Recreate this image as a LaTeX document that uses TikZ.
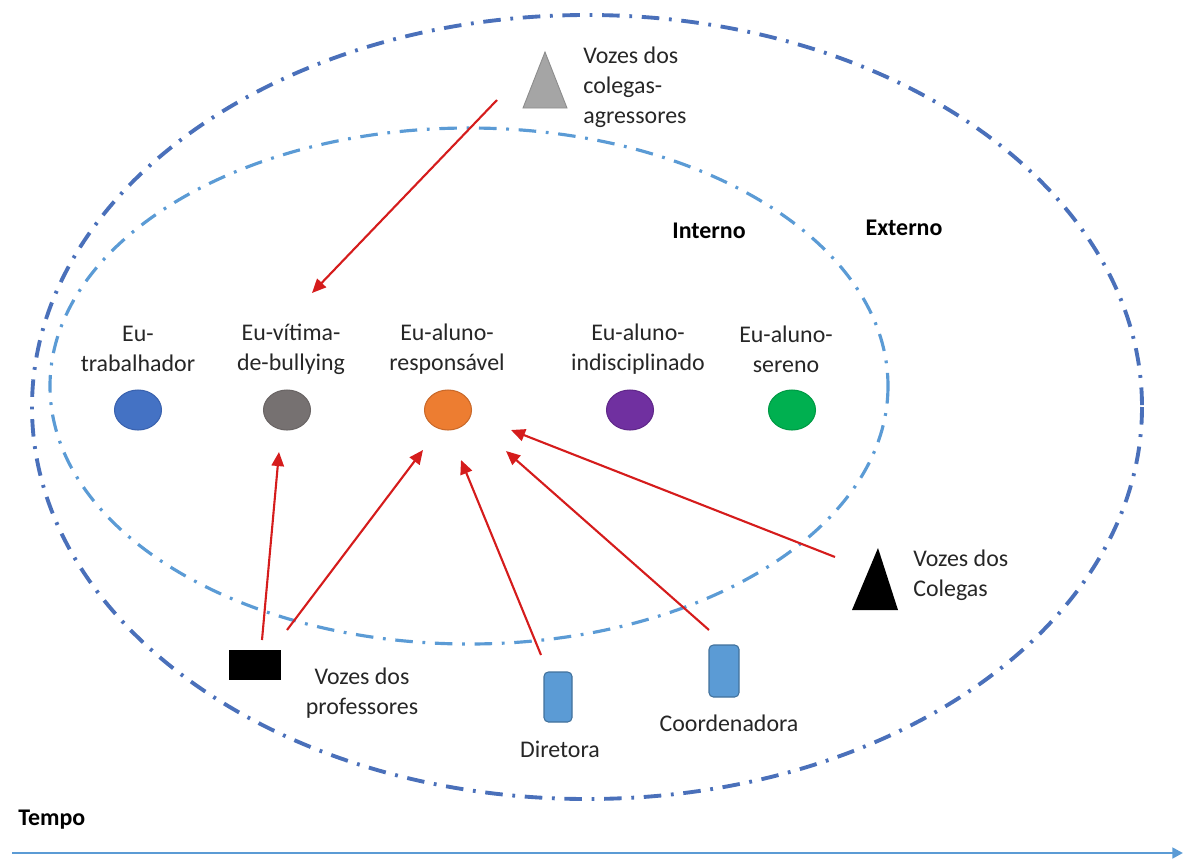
\documentclass[tikz,border=0pt]{standalone}
\usepackage{fontspec}
\setmainfont{Carlito}
\usetikzlibrary{shapes.geometric,arrows.meta}

\definecolor{outerblue}{HTML}{4A70BA}
\definecolor{innerblue}{HTML}{5B9BD5}
\definecolor{boxblue}{HTML}{5B9BD5}
\definecolor{boxedge}{HTML}{41719C}
\definecolor{arrowred}{HTML}{D51C1C}
\definecolor{cblue}{HTML}{4472C4}    \definecolor{cblueE}{HTML}{3A62AE}
\definecolor{cgray}{HTML}{767171}    \definecolor{cgrayE}{HTML}{6A6565}
\definecolor{corange}{HTML}{ED7D31}  \definecolor{corangeE}{HTML}{C9692A}
\definecolor{cpurple}{HTML}{7030A0}  \definecolor{cpurpleE}{HTML}{60288A}
\definecolor{cgreen}{HTML}{00B050}   \definecolor{cgreenE}{HTML}{009A45}
\definecolor{tri}{HTML}{A5A5A5}      \definecolor{triE}{HTML}{8C8C8C}

\tikzset{
  txt/.style={font=\fontsize{13.6}{17}\selectfont, align=center, inner sep=0pt, text=black!85},
  bold/.style={font=\fontsize{13.6}{17}\selectfont\bfseries, inner sep=0pt},
  self/.style={ellipse, minimum width=0.94cm, minimum height=0.8cm, inner sep=0pt, line width=0.6pt},
  person/.style={rectangle, rounded corners=2.5pt, fill=boxblue, draw=boxedge, line width=0.6pt,
                 minimum width=0.56cm, minimum height=1cm, inner sep=0pt},
  voice/.style={-{Triangle[length=8pt,width=7pt]}, arrowred, line width=1.2pt},
  ring/.style={dash pattern=on 10pt off 5.5pt on 1.6pt off 5.5pt}
}

\begin{document}
\begin{tikzpicture}[x=0.02cm, y=-0.02cm]
  \useasboundingbox (0,0) rectangle (1184,859);

  % the two dash-dotted regions
  \draw[ring, outerblue, line width=2.2pt] (587,407) ellipse [x radius=555, y radius=392];
  \draw[ring, innerblue, line width=1.8pt] (469,386) ellipse [x radius=419, y radius=258];

  \node[bold] (interno) at (709,231) {Interno};
  \node[bold] (externo) at (904,228) {Externo};

  % the selves
  \node[self, fill=cblue, draw=cblueE] (trab) at (138,410) {};
  \node[self, fill=cgray, draw=cgrayE] (vitima) at (287,410) {};
  \node[self, fill=corange, draw=corangeE] (resp) at (448,410) {};
  \node[self, fill=cpurple, draw=cpurpleE] (indis) at (630,410) {};
  \node[self, fill=cgreen, draw=cgreenE] (sereno) at (792,410) {};

  \node[txt] (ltrab) at (138,349) {Eu-\\trabalhador};
  \node[txt] (lvitima) at (291,349) {Eu-vítima-\\de-bullying};
  \node[txt] (lresp) at (447,349) {Eu-aluno-\\responsável};
  \node[txt] (lindis) at (638,349) {Eu-aluno-\\indisciplinado};
  \node[txt] (lsereno) at (786,349) {Eu-aluno-\\sereno};

  % voices
  \filldraw[fill=tri, draw=triE, line width=0.5pt]
    (545,52) -- (567,108) -- (523,108) -- cycle;
  \node[txt, align=left, anchor=west] (lagress) at (583,87) {Vozes dos\\colegas-\\agressores};

  \fill[black] (878,548) -- (898,610) -- (852,610) -- cycle;
  \node[txt, align=left, anchor=west] (lcolegas) at (913,575) {Vozes dos\\Colegas};

  \node[rectangle, fill=black, minimum width=1.04cm, minimum height=0.6cm, inner sep=0pt] (prof) at (255,665) {};
  \node[txt] (lprof) at (362,693) {Vozes dos\\professores};

  \node[person] (dir) at (558,697) {};
  \node[txt] (ldir) at (560,749) {Diretora};
  \node[person, minimum width=0.6cm, minimum height=1.04cm] (coord) at (724,671) {};
  \node[txt] (lcoord) at (729,723) {Coordenadora};

  % arrow end points
  \coordinate (agS) at (497,100);  \coordinate (agE) at (312,293);
  \coordinate (p1S) at (262,640);  \coordinate (p1E) at (279,452);
  \coordinate (p2S) at (287,630);  \coordinate (p2E) at (423,450);
  \coordinate (dS)  at (541,655);  \coordinate (dE)  at (461,460);
  \coordinate (cS)  at (709,630);  \coordinate (cE)  at (506,451);
  \coordinate (kS)  at (835,557);  \coordinate (kE)  at (511,430);

  \draw[voice] (agS) -- (agE);
  \draw[voice] (p1S) -- (p1E);
  \draw[voice] (p2S) -- (p2E);
  \draw[voice] (dS) -- (dE);
  \draw[voice] (cS) -- (cE);
  \draw[voice] (kS) -- (kE);

  % time axis
  \node[bold, anchor=west] (tempo) at (18,820) {Tempo};
  \coordinate (t0) at (12,853);
  \coordinate (t1) at (1183,853);
  \draw[innerblue, line width=1.6pt, -{Triangle[length=6pt,width=6pt]}] (t0) -- (t1);
\end{tikzpicture}
\end{document}
